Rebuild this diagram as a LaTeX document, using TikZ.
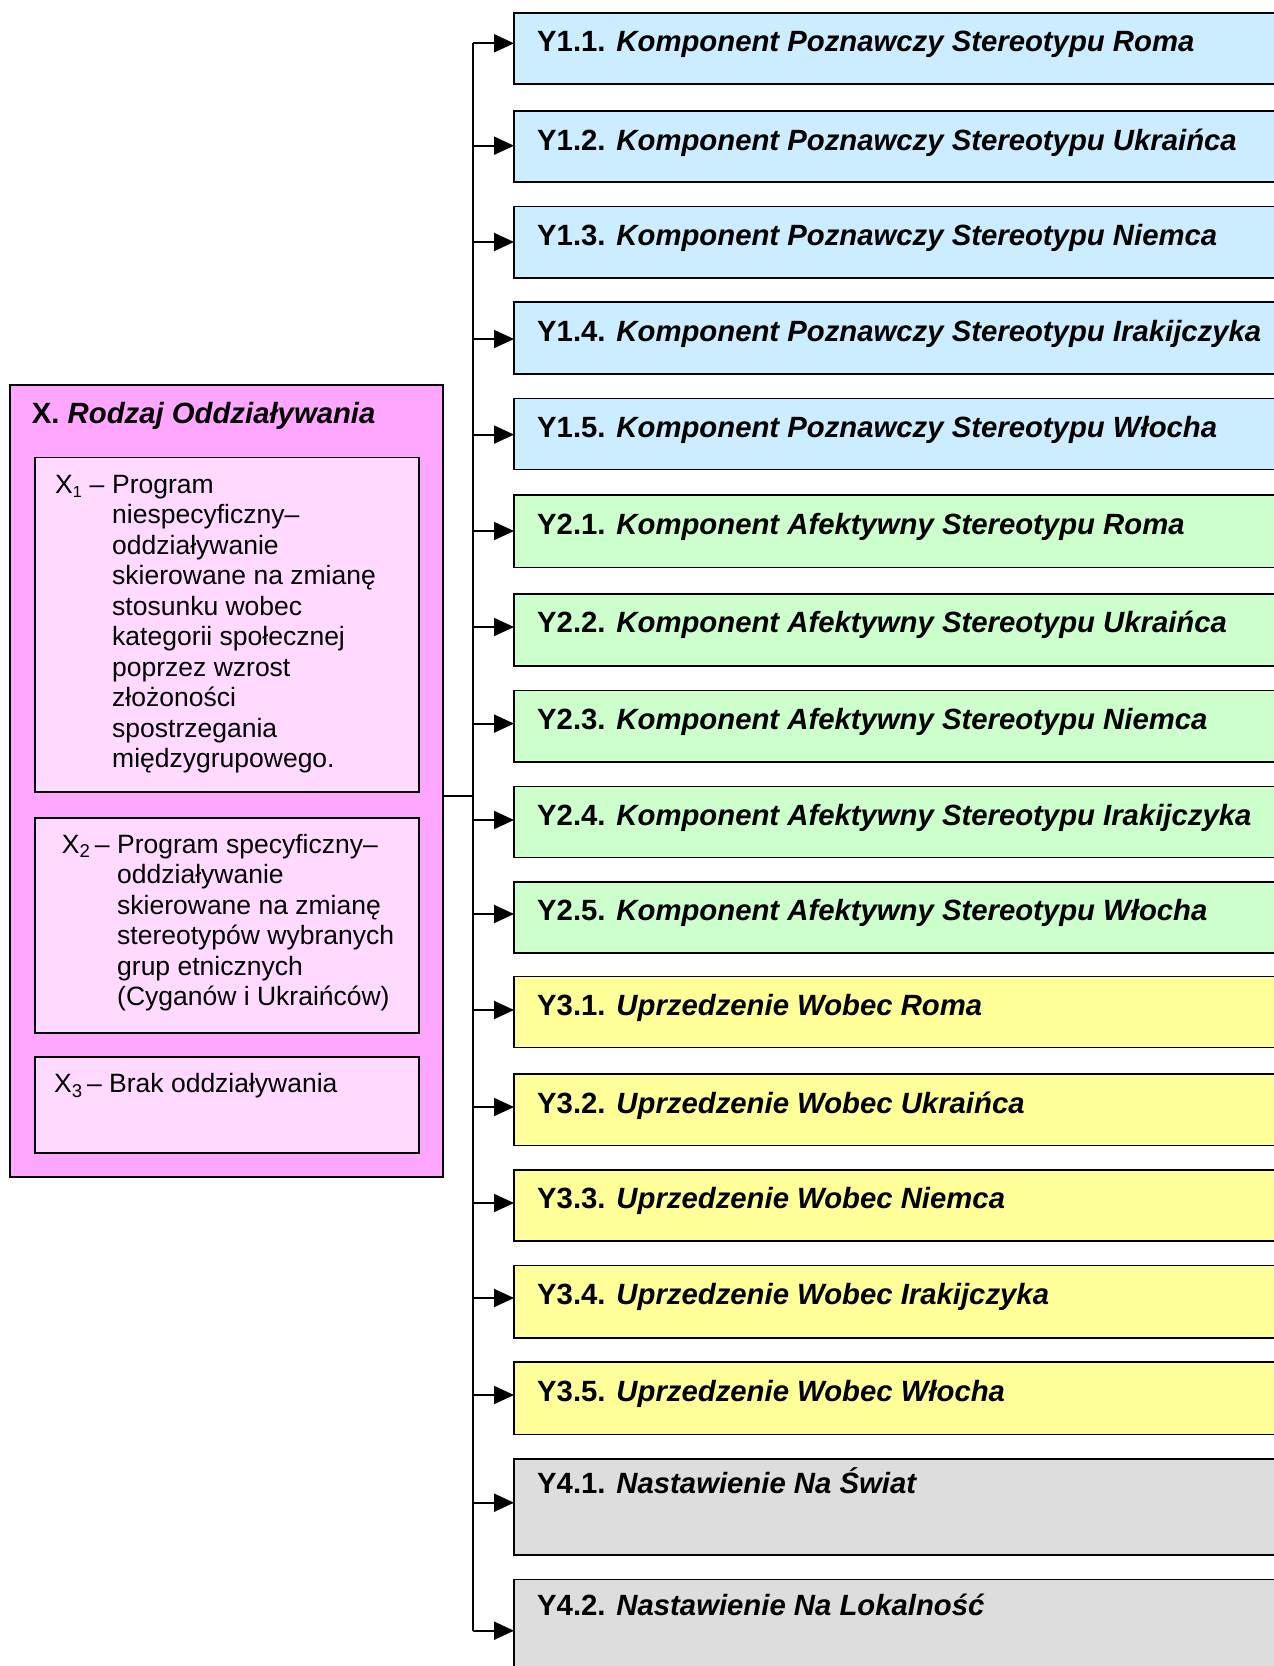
\documentclass[tikz,border=0pt]{standalone}
\usepackage{fontspec}
\setmainfont{Liberation Sans}
\usetikzlibrary{arrows.meta}
\definecolor{xouter}{HTML}{FFA6FF}
\definecolor{xinner}{HTML}{FFD9FF}
\definecolor{yblue}{HTML}{CCECFF}
\definecolor{ygreen}{HTML}{CCFFCC}
\definecolor{yyellow}{HTML}{FFFF99}
\definecolor{ygray}{HTML}{DDDDDD}
\newcommand\bigfont{\fontsize{29.3}{35}\selectfont}
\newcommand\bodyfont{\fontsize{26.5}{30.5}\selectfont}
\newcommand\toplines[1]{\parbox[t]{320pt}{\bodyfont\raggedright #1}}
\newcommand\ybox[8]{%
  \node[yboxstyle, fill=#4, minimum height=#3pt, anchor=north west] (#1) at (514,#2) {};
  \node[ylab] (#1t) at (537,{#2+#8}) {\textbf{#5} \textbf{\textit{#6}}};
  \coordinate (#1a) at (514,#7);
  \draw[arr] (#1a -| bus) -- (#1a);
}
\begin{document}
\begin{tikzpicture}[x=1pt,y=-1pt,
  yboxstyle/.style={draw=black, line width=1.6pt, inner sep=0pt, outer sep=0pt, minimum width=800pt},
  ylab/.style={anchor=base west, inner sep=0pt, font=\bigfont},
  boxstyle/.style={draw=black, line width=1.6pt},
  body/.style={anchor=base west, inner sep=0pt, font=\bodyfont},
  conn/.style={line width=2pt},
  arr/.style={line width=2pt, -{Triangle[length=20pt,width=18pt]}}]
\useasboundingbox (0,0) rectangle (1274,1666);
\clip (0,0) rectangle (1274,1666);
\fill[white] (0,0) rectangle (1274,1666);

% left group
\node[boxstyle, fill=xouter, inner sep=0pt, outer sep=0pt, anchor=north west,
  minimum width=433pt, minimum height=792pt] (xbox) at (10,385) {};
\node[ylab] (xtitle) at (31.7,423.3) {\textbf{X.} \textbf{\textit{Rodzaj Oddziaływania}}};

\node[boxstyle, fill=xinner, inner sep=0pt, outer sep=0pt, anchor=north west,
  minimum width=384pt, minimum height=334.7pt] (x1box) at (35,457.3) {};
\node[body] (x1a) at (55,493.3) {X\textsubscript{\fontsize{16}{16}\selectfont 1} –};
\node[body] (x1b) at (112,493.3) {\toplines{Program\\niespecyficzny–\\oddziaływanie\\skierowane na zmianę\\stosunku wobec\\kategorii społecznej\\poprzez wzrost\\złożoności\\spostrzegania\\międzygrupowego.}};

\node[boxstyle, fill=xinner, inner sep=0pt, outer sep=0pt, anchor=north west,
  minimum width=384pt, minimum height=215pt] (x2box) at (35,818) {};
\node[body] (x2a) at (61.7,853.3) {X\textsubscript{2}\,–};
\node[body] (x2b) at (117,853.3) {\toplines{Program specyficzny–\\oddziaływanie\\skierowane na zmianę\\stereotypów wybranych\\grup etnicznych\\(Cyganów i Ukraińców)}};

\node[boxstyle, fill=xinner, inner sep=0pt, outer sep=0pt, anchor=north west,
  minimum width=384pt, minimum height=95.7pt] (x3box) at (35,1057) {};
\node[body] (x3a) at (54,1092.7) {X\textsubscript{3}\,– Brak oddziaływania};

% bus
\coordinate (bustop) at (473,43.3);
\coordinate (busbot) at (473,1630.7);
\coordinate (bus) at (473,796);
\draw[conn] (bustop) -- (busbot);
\draw[conn] (xbox.east |- bus) -- (bus);

\ybox{y11}{12.7}{71}{yblue}{Y1.1.}{Komponent Poznawczy Stereotypu Roma}{43.3}{39}
\ybox{y12}{111}{71}{yblue}{Y1.2.}{Komponent Poznawczy Stereotypu Ukraińca}{145.7}{39}
\ybox{y13}{206.5}{71.5}{yblue}{Y1.3.}{Komponent Poznawczy Stereotypu Niemca}{242}{39}
\ybox{y14}{302}{72}{yblue}{Y1.4.}{Komponent Poznawczy Stereotypu Irakijczyka}{339}{39}
\ybox{y15}{398.4}{71.2}{yblue}{Y1.5.}{Komponent Poznawczy Stereotypu Włocha}{434.6}{39}
\ybox{y21}{495.1}{72.3}{ygreen}{Y2.1.}{Komponent Afektywny Stereotypu Roma}{531}{39}
\ybox{y22}{593.9}{72.3}{ygreen}{Y2.2.}{Komponent Afektywny Stereotypu Ukraińca}{627}{39}
\ybox{y23}{690.6}{71.2}{ygreen}{Y2.3.}{Komponent Afektywny Stereotypu Niemca}{723.6}{39}
\ybox{y24}{786.5}{71.1}{ygreen}{Y2.4.}{Komponent Afektywny Stereotypu Irakijczyka}{820}{39}
\ybox{y25}{881.9}{71.2}{ygreen}{Y2.5.}{Komponent Afektywny Stereotypu Włocha}{914}{39}
\ybox{y31}{976.4}{71.2}{yyellow}{Y3.1.}{Uprzedzenie Wobec Roma}{1010}{39}
\ybox{y32}{1074.2}{71.2}{yyellow}{Y3.2.}{Uprzedzenie Wobec Ukraińca}{1107}{39}
\ybox{y33}{1169.8}{71.2}{yyellow}{Y3.3.}{Uprzedzenie Wobec Niemca}{1203}{39}
\ybox{y34}{1265.4}{72.3}{yyellow}{Y3.4.}{Uprzedzenie Wobec Irakijczyka}{1298}{39}
\ybox{y35}{1362.1}{72.3}{yyellow}{Y3.5.}{Uprzedzenie Wobec Włocha}{1395}{39}
\ybox{y41}{1459}{96}{ygray}{Y4.1.}{Nastawienie Na Świat}{1502.7}{34}
\ybox{y42}{1579.3}{100}{ygray}{Y4.2.}{Nastawienie Na Lokalność}{1630.7}{35.7}
\end{tikzpicture}
\end{document}
